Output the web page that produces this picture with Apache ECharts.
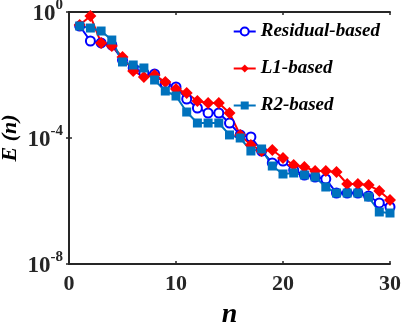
<!DOCTYPE html>
<html>
<head>
<meta charset="utf-8" />
<title>E(n)</title>
<script src="https://cdn.jsdelivr.net/npm/echarts@6/dist/echarts.min.js"></script>
</head>
<body style="margin:0">
<div id="main" style="width:407px;height:325px"></div>
<script type="text/javascript">
var nValues = [1,2,3,4,5,6,7,8,9,10,11,12,13,14,15,16,17,18,19,20,21,22,23,24,25,26,27,28,29,30];

var residualBased = [0.359,0.12,0.104,0.0896,0.0299,0.0167,0.0116,0.0108,0.00518,0.00416,
    0.00173,0.000896,0.000622,0.000622,0.000299,0.000125,0.000108,3.87e-5,1.61e-5,1.86e-5,
    9.6e-6,6.68e-6,5.78e-6,4.99e-6,1.79e-6,1.79e-6,1.79e-6,1.44e-6,8.65e-7,6.45e-7];

var l1Based = [0.386,0.746,0.104,0.0833,0.0373,0.0134,0.00865,0.01,0.006,0.0036,
    0.00268,0.0015,0.00129,0.00129,0.000622,0.000125,6.0e-5,3.87e-5,4.16e-5,2.32e-5,
    1.39e-5,1.2e-5,8.96e-6,8.96e-6,8.33e-6,3.47e-6,3.47e-6,3.22e-6,2.08e-6,1.08e-6];

var r2Based = [0.359,0.31,0.249,0.129,0.0259,0.0208,0.0167,0.00694,0.0031,0.00215,
    0.000668,0.000299,0.000299,0.000299,0.000125,0.0001,3.87e-5,4.48e-5,1.29e-5,7.2e-6,
    7.74e-6,6.68e-6,5.78e-6,2.78e-6,1.79e-6,1.79e-6,1.79e-6,1.34e-6,4.48e-7,4.16e-7];

var seriesNames = ['Residual-based', 'L1-based', 'R2-based'];

function pairs(ys) {
    return nValues.map(function (n, i) { return [n, ys[i]]; });
}

var myChart = echarts.init(document.getElementById('main'));

var serif = '"Liberation Serif", "DejaVu Serif", serif';
var frame = {show: true, lineStyle: {color: '#262626', width: 2}};
var ticks = {show: true, inside: true, length: 3, lineStyle: {color: '#262626', width: 1.5}};

var option = {
    animation: false,
    backgroundColor: '#fff',
    grid: {left: 69, right: 17, top: 12, bottom: 61, outerBoundsMode: 'none', containLabel: false},
    legend: {
        orient: 'vertical',
        right: 22,
        top: 17,
        itemGap: 18,
        itemWidth: 22,
        itemHeight: 10,
        data: seriesNames,
        textStyle: {fontFamily: serif, fontWeight: 'bold', fontStyle: 'italic', fontSize: 19, color: '#000'}
    },
    xAxis: [{
        type: 'value', min: 0, max: 30, interval: 10,
        name: 'n', nameLocation: 'middle', nameGap: 37, nameMoveOverlap: false,
        nameTextStyle: {fontFamily: serif, fontWeight: 'bold', fontStyle: 'italic', fontSize: 28, color: '#000'},
        axisLine: frame, axisTick: ticks, splitLine: {show: false},
        axisLabel: {fontFamily: serif, fontWeight: 'bold', fontSize: 22, color: '#262626', margin: 9}
    }, {
        type: 'value', min: 0, max: 30, interval: 10, position: 'top',
        axisLine: frame, axisTick: ticks, splitLine: {show: false}, axisLabel: {show: false}
    }],
    yAxis: [{
        type: 'log', logBase: 10, min: 1e-8, max: 1, interval: 4,
        name: 'E (n)', nameLocation: 'middle', nameGap: 48, nameRotate: 90, nameMoveOverlap: false,
        nameTextStyle: {fontFamily: serif, fontWeight: 'bold', fontStyle: 'italic', fontSize: 22, color: '#000'},
        axisLine: frame, axisTick: ticks, splitLine: {show: false},
        axisLabel: {
            margin: 6,
            formatter: function (v) {
                var e = Math.round(Math.log10(v));
                return '{b|10}{s|' + e + '}';
            },
            rich: {
                b: {fontFamily: serif, fontWeight: 'bold', fontSize: 23, color: '#262626', lineHeight: 28, verticalAlign: 'bottom'},
                s: {fontFamily: serif, fontWeight: 'bold', fontSize: 15, color: '#262626', lineHeight: 28, verticalAlign: 'top'}
            }
        }
    }, {
        type: 'log', logBase: 10, min: 1e-8, max: 1, interval: 4, position: 'right',
        axisLine: frame, axisTick: ticks, splitLine: {show: false}, axisLabel: {show: false}
    }],
    series: [{
        name: seriesNames[0], type: 'line', data: pairs(residualBased),
        symbol: 'emptyCircle', symbolSize: 9,
        itemStyle: {color: '#0000ff', borderWidth: 2},
        lineStyle: {color: '#0000ff', width: 2}
    }, {
        name: seriesNames[1], type: 'line', data: pairs(l1Based),
        symbol: 'diamond', symbolSize: 12,
        itemStyle: {color: '#ff0000'},
        lineStyle: {color: '#ff0000', width: 2}
    }, {
        name: seriesNames[2], type: 'line', data: pairs(r2Based),
        symbol: 'rect', symbolSize: 9,
        itemStyle: {color: '#0072bd'},
        lineStyle: {color: '#0072bd', width: 2}
    }]
};

myChart.setOption(option);
</script>
</body>
</html>
